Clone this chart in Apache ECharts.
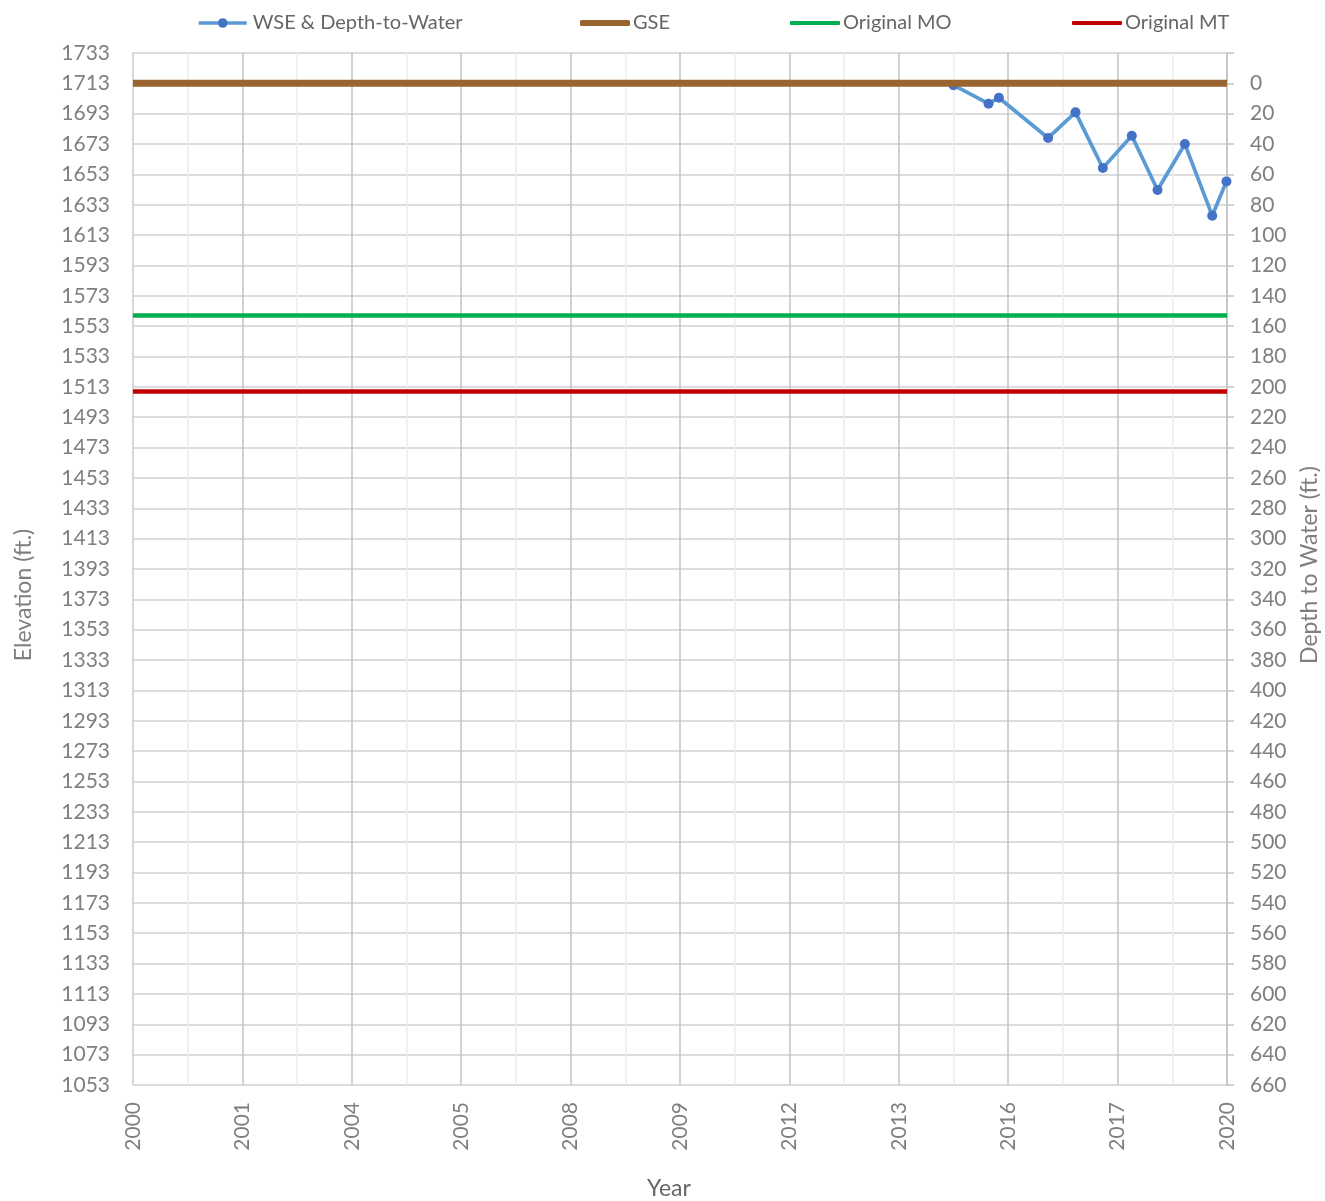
<!DOCTYPE html>
<html><head><meta charset="utf-8">
<script src="https://cdn.jsdelivr.net/npm/echarts@6/dist/echarts.min.js"></script>
<style>html,body{margin:0;padding:0;background:#fff}#c{width:1325px;height:1201px}</style>
</head><body><div id="c"></div>
<script>
// ---- data ----
const xTickLabels = ['2000','2001','2004','2005','2008','2009','2012','2013','2016','2017','2020'];
const wseYears = [2015.0, 2015.64, 2015.83, 2016.73, 2017.23, 2017.73, 2018.26, 2018.73, 2019.23, 2019.73, 2019.99];
const wseElev  = [1711.8, 1699.6, 1703.5, 1677.0, 1693.9, 1657.2, 1678.5, 1642.7, 1673.0, 1625.8, 1648.4];
const gseElev = 1713;
const moElev = 1560;
const mtElev = 1510;
const yearRange = [2000, 2020];
const elevRange = [1053, 1733];
const seriesNames = ['WSE & Depth-to-Water', 'GSE', 'Original MO', 'Original MT'];

// axis works in depth-to-water units (depth = GSE - elevation)
const toDepth = e => gseElev - e;
const wseData = wseYears.map((y, i) => [y, toDepth(wseElev[i])]);
const flat = e => [[yearRange[0], toDepth(e)], [yearRange[1], toDepth(e)]];

const FONT = 'Lato';
const TICK_COLOR = '#7f7f7f';
const tickStyle = { fontFamily: FONT, fontSize: 21, color: TICK_COLOR };

const chart = echarts.init(document.getElementById('c'), null, { renderer: 'canvas' });

function legendFor(name, left, extra) {
  return Object.assign({
    data: [name], left: left, top: 8, itemGap: 0, itemWidth: 50,
    textStyle: { fontFamily: FONT, fontSize: 20, color: '#666666', padding: [0,0,0,-2] },
    selectedMode: false
  }, extra || {});
}

chart.setOption({
  animation: false,
  backgroundColor: '#ffffff',
  legend: [
    legendFor(seriesNames[0], 192, { itemWidth: 48, itemHeight: 12, lineStyle: { width: 3.5 },
      textStyle: { fontFamily: FONT, fontSize: 20, color: '#666666', padding: [0,0,0,1] } }),
    legendFor(seriesNames[1], 575, { icon: 'roundRect', itemHeight: 6, itemStyle: { color: '#9a6431' } }),
    legendFor(seriesNames[2], 785, { icon: 'roundRect', itemHeight: 4, itemStyle: { color: '#00b050' } }),
    legendFor(seriesNames[3], 1067, { icon: 'roundRect', itemHeight: 4, itemStyle: { color: '#c00000' } })
  ],
  grid: { left: 133, right: 98, top: 53, bottom: 116, containLabel: false, outerBoundsMode: 'none' },
  xAxis: {
    type: 'value', min: yearRange[0], max: yearRange[1], interval: 2,
    name: 'Year', nameLocation: 'middle', nameGap: 92,
    nameTextStyle: { fontFamily: FONT, fontSize: 23, color: '#666666', padding: [0, 22, 0, 0] },
    axisLine: { show: true, lineStyle: { color: '#d9d9d9', width: 1.5 } },
    axisTick: { show: false },
    minorTick: { show: false, splitNumber: 2 },
    minorSplitLine: { show: true, lineStyle: { color: '#ededed', width: 1.5 } },
    splitLine: { show: true, lineStyle: { color: '#c3c3c3', width: 1.5 } },
    axisLabel: {
      ...tickStyle, rotate: 90, margin: 17,
      formatter: v => xTickLabels[Math.round((v - yearRange[0]) / 2)] || ''
    }
  },
  yAxis: [
    {
      type: 'value', inverse: true,
      min: toDepth(elevRange[1]), max: toDepth(elevRange[0]), interval: 20,
      name: 'Elevation (ft.)', nameLocation: 'middle', nameGap: 98,
      nameTextStyle: { fontFamily: FONT, fontSize: 23, color: '#7f7f7f', padding: [0, 52, 0, 0] },
      axisLine: { show: true, lineStyle: { color: '#d9d9d9', width: 1.5 } },
      axisTick: { show: false },
      splitLine: { show: true, lineStyle: { color: '#d0d0d0', width: 1.5 } },
      axisLabel: { ...tickStyle, margin: 23, formatter: v => String(gseElev - v) }
    },
    {
      type: 'value', inverse: true, position: 'right',
      min: toDepth(elevRange[1]), max: toDepth(elevRange[0]), interval: 20,
      name: 'Depth to Water (ft.)', nameLocation: 'middle', nameGap: 71,
      nameTextStyle: { fontFamily: FONT, fontSize: 23, color: '#7f7f7f', padding: [0, 0, 0, 8] },
      axisLine: { show: true, lineStyle: { color: '#c3c3c3', width: 1.5 } },
      axisTick: { show: true, inside: false, length: 7, lineStyle: { color: '#c3c3c3', width: 1.5 } },
      splitLine: { show: false },
      axisLabel: { ...tickStyle, margin: 23, formatter: v => (v < 0 ? '' : String(v)) }
    }
  ],
  series: [
    {
      name: seriesNames[0], type: 'line', data: wseData, yAxisIndex: 0,
      symbol: 'circle', symbolSize: 10, showAllSymbol: true,
      lineStyle: { color: '#5b9bd5', width: 3.75 },
      itemStyle: { color: '#4472c4' }, z: 3
    },
    {
      name: seriesNames[1], type: 'line', data: flat(gseElev), symbol: 'none',
      lineStyle: { color: '#9a6431', width: 7 }, itemStyle: { color: '#9a6431' }, z: 4
    },
    {
      name: seriesNames[2], type: 'line', data: flat(moElev), symbol: 'none',
      lineStyle: { color: '#00b050', width: 4.5 }, itemStyle: { color: '#00b050' }, z: 4
    },
    {
      name: seriesNames[3], type: 'line', data: flat(mtElev), symbol: 'none',
      lineStyle: { color: '#c00000', width: 4.5 }, itemStyle: { color: '#c00000' }, z: 4
    }
  ]
});
</script>
</body></html>
